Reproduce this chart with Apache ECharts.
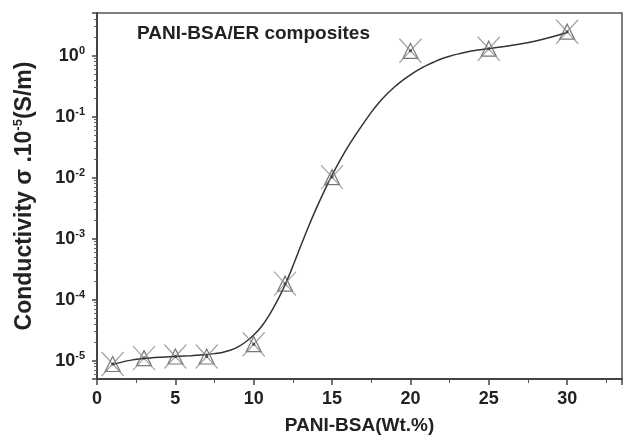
<!DOCTYPE html>
<html>
<head>
<meta charset="utf-8">
<script src="https://cdn.jsdelivr.net/npm/echarts@6/dist/echarts.min.js"></script>
<style>
  html, body { margin: 0; padding: 0; background: #fff; }
  #chart { width: 625px; height: 440px; }
</style>
</head>
<body>
<div id="chart"></div>
<script>
// 测量点 (PANI-BSA 含量 wt.%, 电导率)
var wt = [1, 3, 5, 7, 10, 12, 15, 20, 25, 30];
var sigma = [8.8e-6, 1.1e-5, 1.17e-5, 1.17e-5, 1.86e-5, 1.83e-4, 1.02e-2, 1.2, 1.3, 2.47];

// 拟合曲线
var fitX = [1, 2, 3, 4, 5, 6, 7, 7.5, 8, 8.5, 9, 9.5, 10, 10.5, 11, 11.5, 12, 12.5, 13, 13.5,
            14, 14.5, 15, 15.5, 16, 16.5, 17, 17.5, 18, 18.5, 19, 19.5, 20, 20.5, 21, 21.5,
            22, 22.5, 23, 24, 25, 26, 27, 28, 29, 30];
var fitY = [8.61e-6, 1.0e-5, 1.084e-5, 1.135e-5, 1.169e-5, 1.208e-5, 1.259e-5, 1.303e-5, 1.365e-5,
            1.479e-5, 1.679e-5, 2.042e-5, 2.63e-5, 3.631e-5, 5.623e-5, 9.55e-5, 1.738e-4, 3.548e-4,
            7.586e-4, 1.585e-3, 3.162e-3, 6.026e-3, 1.096e-2, 1.905e-2, 3.162e-2, 5.012e-2, 7.762e-2,
            0.1175, 0.1698, 0.2344, 0.309, 0.3936, 0.4842, 0.5821, 0.6839, 0.7852, 0.8913, 0.9772,
            1.059, 1.202, 1.303, 1.413, 1.549, 1.738, 2.018, 2.399];

var xTicks = [0, 5, 10, 15, 20, 25, 30];

var font = "'Liberation Sans', Arial, sans-serif";

(function() {
    var myChart = echarts.init(document.getElementById("chart"));

    var pts = wt.map(function(x, i) { return [x, sigma[i]]; });
    var fit = fitX.map(function(x, i) { return [x, fitY[i]]; });

    var option = {
        animation: false,
        backgroundColor: "#fff",
        title: {
            text: "PANI-BSA/ER composites",
            left: 132,
            top: 19,
            textStyle: {
                fontFamily: font,
                fontSize: 19,
                fontWeight: "bold",
                color: "#222"
            }
        },
        grid: {
            left: 97,
            top: 13,
            right: 1,
            bottom: 56,
            show: true,
            borderColor: "#555",
            borderWidth: 1.5
        },
        xAxis: {
            type: "value",
            min: 0,
            max: 33.5,
            interval: 5,
            name: "PANI-BSA(Wt.%)",
            nameLocation: "middle",
            nameGap: 37,
            nameTextStyle: {
                fontFamily: font,
                fontSize: 19,
                fontWeight: "bold",
                color: "#222"
            },
            axisLine: { lineStyle: { color: "#444", width: 2 } },
            axisTick: { show: true, length: 6, lineStyle: { color: "#444", width: 1.5 } },
            minorTick: { show: true, splitNumber: 2, length: 4, lineStyle: { color: "#555" } },
            splitLine: { show: false },
            axisLabel: {
                margin: 11,
                fontFamily: font,
                fontSize: 18,
                fontWeight: "bold",
                color: "#222",
                formatter: function(v) {
                    return xTicks.indexOf(v) >= 0 ? String(v) : "";
                }
            }
        },
        yAxis: {
            type: "log",
            logBase: 10,
            min: 5e-6,
            max: 5,
            name: "Conductivity σ .10{sup|-5}(S/m)",
            nameLocation: "middle",
            nameGap: 60,
            nameTextStyle: {
                fontFamily: font,
                fontSize: 23,
                fontWeight: "bold",
                color: "#222",
                rich: {
                    sup: { fontFamily: font, fontSize: 13, fontWeight: "bold", color: "#222", padding: [0, 0, 12, 0] }
                }
            },
            axisLine: { lineStyle: { color: "#444", width: 2 } },
            axisTick: { show: true, length: 5, lineStyle: { color: "#444", width: 1.5 } },
            minorTick: { show: true, splitNumber: 9, length: 3, lineStyle: { color: "#666" } },
            splitLine: { show: false },
            axisLabel: {
                margin: 12,
                fontFamily: font,
                fontSize: 18,
                fontWeight: "bold",
                color: "#222",
                formatter: function(v) {
                    var e = Math.round(Math.log(v) / Math.LN10);
                    if (Math.abs(Math.log(v) / Math.LN10 - e) > 1e-6) return "";
                    return "10{sup|" + e + "}";
                },
                rich: {
                    sup: { fontFamily: font, fontSize: 11, fontWeight: "bold", color: "#222", padding: [0, 0, 10, 0] }
                }
            }
        },
        series: [
            {
                name: "fit",
                type: "line",
                data: fit,
                smooth: 0.3,
                showSymbol: false,
                lineStyle: { color: "#333", width: 1.5 },
                z: 2
            },
            {
                name: "tri",
                type: "scatter",
                data: pts,
                symbol: "triangle",
                symbolSize: [15, 15],
                itemStyle: { color: "rgba(255,255,255,0)", borderColor: "#555", borderWidth: 1.2 },
                z: 3
            },
            {
                name: "cross",
                type: "scatter",
                data: pts,
                symbol: "path://M0,0L10,11M10,0L0,11",
                symbolSize: [22, 24],
                itemStyle: { color: "none", borderColor: "#888", borderWidth: 1.2 },
                z: 3
            },
            {
                name: "dot",
                type: "scatter",
                data: pts,
                symbol: "circle",
                symbolSize: 3,
                itemStyle: { color: "#333" },
                z: 4
            }
        ]
    };

    myChart.setOption(option);
    window.addEventListener("resize", function() {
        myChart.resize();
    });
})();
</script>
</body>
</html>
